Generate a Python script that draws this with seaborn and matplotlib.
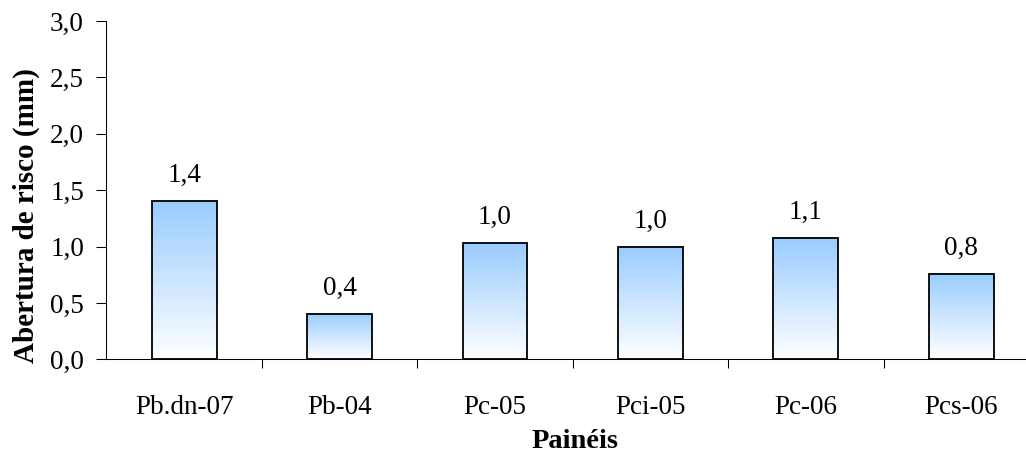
import numpy as np
import matplotlib
matplotlib.use("Agg")
import matplotlib.pyplot as plt
import seaborn as sns
from matplotlib.colors import LinearSegmentedColormap
from matplotlib.ticker import FixedLocator

# dados
paineis = ["Pb.dn-07", "Pb-04", "Pc-05", "Pci-05", "Pc-06", "Pcs-06"]
abertura = [1.40, 0.40, 1.03, 1.00, 1.08, 0.76]
yticks = [0.0, 0.5, 1.0, 1.5, 2.0, 2.5, 3.0]

sns.set_style("ticks")
plt.rcParams["font.family"] = ["Liberation Serif", "DejaVu Serif"]
plt.rcParams["text.color"] = "black"
plt.rcParams["axes.labelcolor"] = "black"

fig = plt.figure(figsize=(10.26, 4.54), dpi=100)
ax = fig.add_axes([0.1038, 0.2086, 0.9088, 0.7452])

sns.barplot(x=paineis, y=abertura, ax=ax, width=0.416, color="white",
            saturation=1, edgecolor="black", linewidth=1.3)

# gradiente azul -> branco em cada barra
cmap = LinearSegmentedColormap.from_list("azul", ["#ffffff", "#99ccff"])
grad = np.linspace(0, 1, 256).reshape(-1, 1)
for p in ax.patches:
    x0, y0 = p.get_x(), p.get_y()
    w, h = p.get_width(), p.get_height()
    ax.imshow(grad, extent=[x0, x0 + w, y0, y0 + h], origin="lower",
              aspect="auto", cmap=cmap, zorder=0.8, interpolation="bicubic")
    p.set_facecolor("none")
    p.set_zorder(2)

for i, v in enumerate(abertura):
    ax.annotate(f"{v:.1f}".replace(".", ","), (i, v), xytext=(0, 13.7),
                textcoords="offset points", ha="center", va="baseline",
                fontsize=19.5, color="black")

ax.set_xlim(-0.5, 5.5)
ax.set_ylim(0, 3.0)
ax.set_yticks(yticks)
ax.set_yticklabels([f"{t:.1f}".replace(".", ",") for t in yticks])
ax.xaxis.set_minor_locator(FixedLocator([0.5, 1.5, 2.5, 3.5, 4.5]))

ax.tick_params(axis="y", direction="out", length=7.2, width=0.75, pad=9,
               labelsize=19.5, colors="black")
ax.tick_params(axis="x", which="major", length=0, pad=26, labelsize=19.5,
               colors="black")
ax.tick_params(axis="x", which="minor", direction="out", length=6.5,
               width=0.75, color="black")

sns.despine(ax=ax)
for s in ["left", "bottom"]:
    ax.spines[s].set_linewidth(0.75)
    ax.spines[s].set_color("black")

ax.set_xlabel("Painéis", fontsize=20.5, fontweight="bold", color="black")
ax.set_ylabel("Abertura de risco (mm)", fontsize=21, fontweight="bold",
              color="black")
ax.xaxis.label.set_va("baseline")
ax.xaxis.set_label_coords(0.503, -0.2622)
ax.yaxis.label.set_va("baseline")
ax.yaxis.set_label_coords(-0.0785, 0.4236)

fig.savefig("out.png", dpi=100)
